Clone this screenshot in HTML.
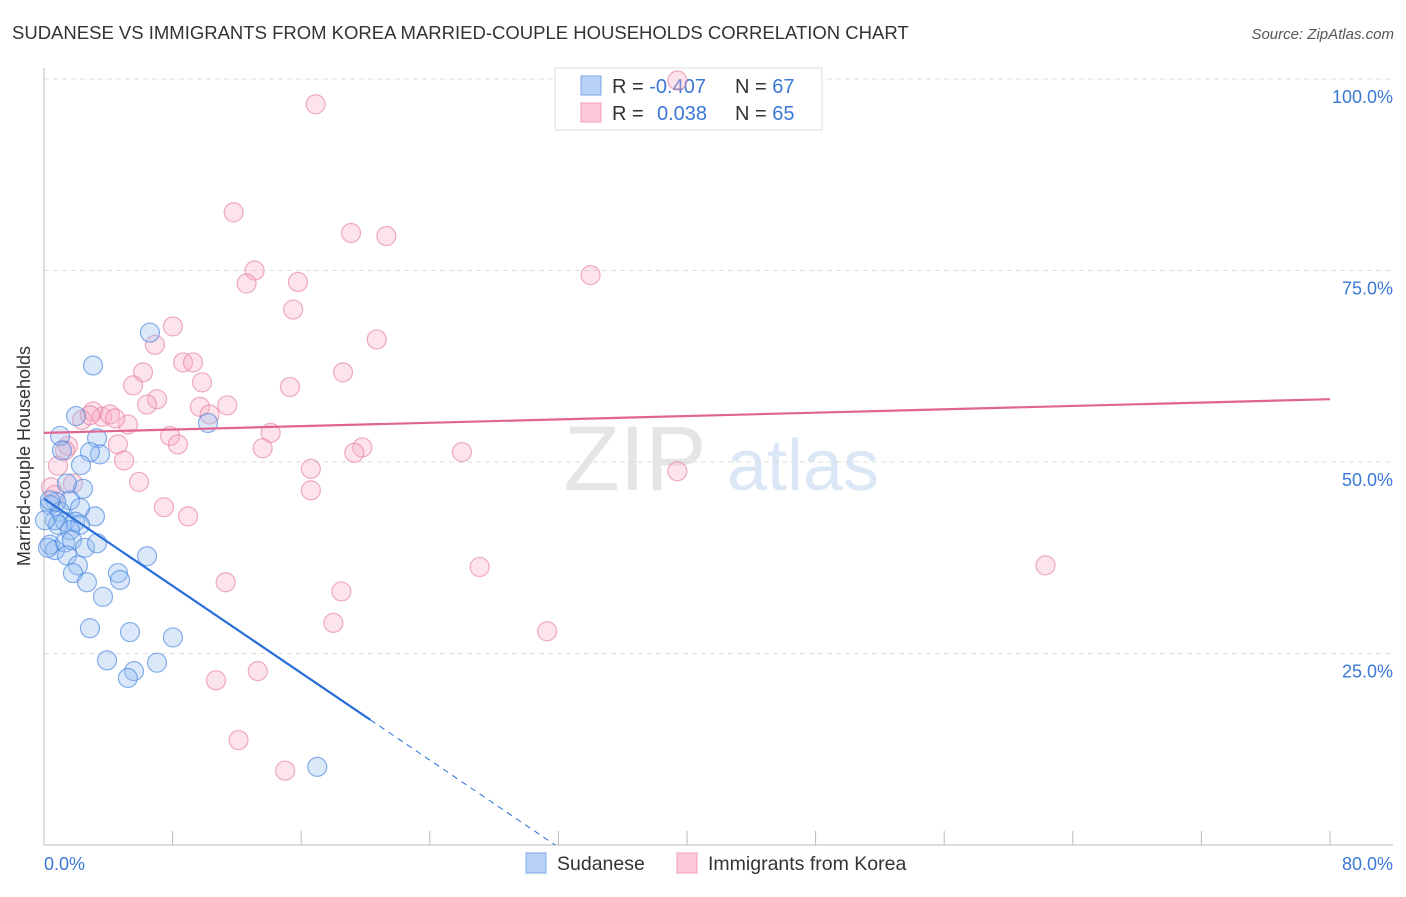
<!DOCTYPE html>
<html><head><meta charset="utf-8"><style>
body{margin:0;background:#fff;font-family:"Liberation Sans",sans-serif}
svg text{font-family:"Liberation Sans",sans-serif}
</style></head><body>
<svg id="chart" width="1406" height="892">
<text x="12" y="39" font-size="18.5" fill="#333">SUDANESE VS IMMIGRANTS FROM KOREA MARRIED-COUPLE HOUSEHOLDS CORRELATION CHART</text>
<text x="1394" y="39" font-size="15" fill="#555" font-style="italic" text-anchor="end">Source: ZipAtlas.com</text>
<g opacity="0.5">
<text x="635" y="490" font-size="92" font-family="Liberation Serif" fill="#ccc" text-anchor="middle">ZIP</text>
<text x="803" y="490" font-size="72" fill="#b8cfee" text-anchor="middle">atlas</text>
</g>
<g id="grid"></g><g id="axes"></g>
<g>
<rect x="555" y="68" width="267" height="62" fill="#fff" stroke="#ddd"/>
<rect x="581" y="76" width="20" height="19" fill="#b8d3f6" stroke="#7aa8e6"/>
<rect x="581" y="103" width="20" height="19" fill="#fcc9d8" stroke="#f0a0b8"/>
<text x="612" y="93" font-size="20" fill="#333">R = <tspan fill="#3a78d6">-0.407</tspan></text>
<text x="735" y="93" font-size="20" fill="#333">N = <tspan fill="#3a78d6">67</tspan></text>
<text x="612" y="120" font-size="20" fill="#333">R = <tspan fill="#3a78d6" x="657">0.038</tspan></text>
<text x="735" y="120" font-size="20" fill="#333">N = <tspan fill="#3a78d6">65</tspan></text>
</g>
<g id="marks"></g>
<text x="30" y="456" font-size="18" fill="#333" text-anchor="middle" transform="rotate(-90 30 456)">Married-couple Households</text>
<g>
<rect x="526" y="853" width="20" height="20" fill="#b8d3f6" stroke="#7aa8e6"/>
<text x="557" y="870" font-size="19.5" fill="#333">Sudanese</text>
<rect x="677" y="853" width="20" height="20" fill="#fcc9d8" stroke="#f0a0b8"/>
<text x="708" y="870" font-size="19.5" fill="#333">Immigrants from Korea</text>
</g>
</svg>
<script>
const blueX=[6.59,3.05,1.99,1.00,3.30,3.48,2.86,2.30,1.12,2.43,1.62,0.75,0.37,1.43,3.17,2.24,1.00,0.68,1.31,1.93,2.24,0.87,1.62,0.37,0.68,1.31,1.74,2.55,3.30,1.43,2.11,1.80,2.67,3.67,4.60,4.73,6.41,2.86,5.35,8.02,3.92,5.60,7.03,5.22,10.2,17.0,0.25,0.06,0.37];
const blueY=[66.9,62.6,56.0,53.4,53.1,51.0,51.3,49.6,51.5,46.5,45.0,44.8,44.4,47.2,42.9,44.0,43.5,42.4,42.2,42.2,41.8,41.8,41.1,39.2,38.5,39.5,39.8,38.8,39.4,37.8,36.5,35.5,34.3,32.4,35.5,34.6,37.7,28.3,27.8,27.1,24.1,22.7,23.8,21.8,55.1,10.2,38.8,42.4,45.0];
const pinkX=[39.4,16.9,11.8,19.1,21.3,13.1,12.6,15.8,34.0,15.5,8.02,6.90,20.7,8.65,9.27,6.16,18.6,5.54,9.83,15.3,7.03,6.41,9.70,11.4,10.3,3.05,3.61,4.10,2.36,5.22,7.84,14.1,8.33,4.60,1.49,13.6,19.8,19.3,26.0,4.98,0.87,16.6,39.4,1.80,5.91,0.44,16.6,7.46,8.96,11.3,27.1,62.3,18.5,18.0,31.3,13.3,10.7,12.1,15.0,0.68,1.31,2.86,4.42];
const pinkY=[99.8,96.7,82.6,79.9,79.5,75.0,73.3,73.5,74.4,69.9,67.7,65.3,66.0,63.0,63.0,61.7,61.7,60.0,60.4,59.8,58.2,57.5,57.2,57.4,56.2,56.6,55.9,56.2,55.5,54.9,53.4,53.8,52.3,52.3,52.1,51.8,51.9,51.2,51.3,50.2,49.5,49.1,48.8,47.2,47.4,46.7,46.3,44.1,42.9,34.3,36.3,36.5,33.1,29.0,27.9,22.7,21.5,13.7,9.7,45.7,51.5,56.1,55.7];
const yTicks=[25,50,75,100];
const yTickLabels=["25.0%","50.0%","75.0%","100.0%"];
const xTicks=[0,8,16,24,32,40,48,56,64,72,80];
const blueTrend=[45.2,-0.407];
const blueSolidEnd=20.3, blueZero=31.8;
const pinkTrend=[53.8,58.2];

const NS="http://www.w3.org/2000/svg";
const sx=v=>44+v/80*1286, sy=v=>845-v/100*766;
function mk(tag,attrs,parent){const e=document.createElementNS(NS,tag);for(const k in attrs)e.setAttribute(k,attrs[k]);parent.appendChild(e);return e;}
const grid=document.getElementById('grid'),axes=document.getElementById('axes'),marks=document.getElementById('marks');
yTicks.forEach((t,i)=>{
  const l=mk('line',{x1:44,x2:1393,y1:sy(t),y2:sy(t),stroke:'#ddd','stroke-dasharray':'5,4'},grid);
  
  
  const tx=mk('text',{x:1393,y:sy(t)+24,'font-size':18,fill:'#3a78d6','text-anchor':'end'},axes);
  tx.textContent=yTickLabels[i];
  
  
});
const ya=mk('line',{x1:44,x2:44,y1:68,y2:845,stroke:'#bbb'},axes);


const xa=mk('line',{x1:44,x2:1393,y1:845,y2:845,stroke:'#bbb'},axes);


xTicks.forEach(t=>{
  const l=mk('line',{x1:sx(t),x2:sx(t),y1:831,y2:845,stroke:'#bbb'},axes);
  
  
});
const xl0=mk('text',{x:44,y:870,'font-size':18,fill:'#3a78d6'},axes);xl0.textContent='0.0%';


const xl1=mk('text',{x:1393,y:870,'font-size':18,fill:'#3a78d6','text-anchor':'end'},axes);xl1.textContent='80.0%';



pinkX.forEach((x,i)=>{
  const c=mk('circle',{cx:sx(x),cy:sy(pinkY[i]),r:9.5,fill:'rgba(248,175,198,0.35)',stroke:'rgba(228,120,155,0.6)','stroke-width':1.2},marks);
  
  
});
blueX.forEach((x,i)=>{
  const c=mk('circle',{cx:sx(x),cy:sy(blueY[i]),r:9.5,fill:'rgba(150,190,240,0.35)',stroke:'rgba(60,125,220,0.6)','stroke-width':1.2},marks);
  
  
});
const b0=blueTrend[0], slope=-b0/blueZero;
const bl=mk('line',{x1:sx(0),y1:sy(b0),x2:sx(blueSolidEnd),y2:sy(b0+slope*blueSolidEnd),stroke:'#2a6fd8','stroke-width':2.2},marks);


const bd=mk('line',{x1:sx(blueSolidEnd),y1:sy(b0+slope*blueSolidEnd),x2:sx(blueZero),y2:sy(0),stroke:'#2a6fd8','stroke-width':1,'stroke-dasharray':'6,5'},marks);


const pl=mk('line',{x1:sx(0),y1:sy(pinkTrend[0]),x2:sx(80),y2:sy(pinkTrend[1]),stroke:'#e06590','stroke-width':2.2},marks);


</script>
</body></html>
